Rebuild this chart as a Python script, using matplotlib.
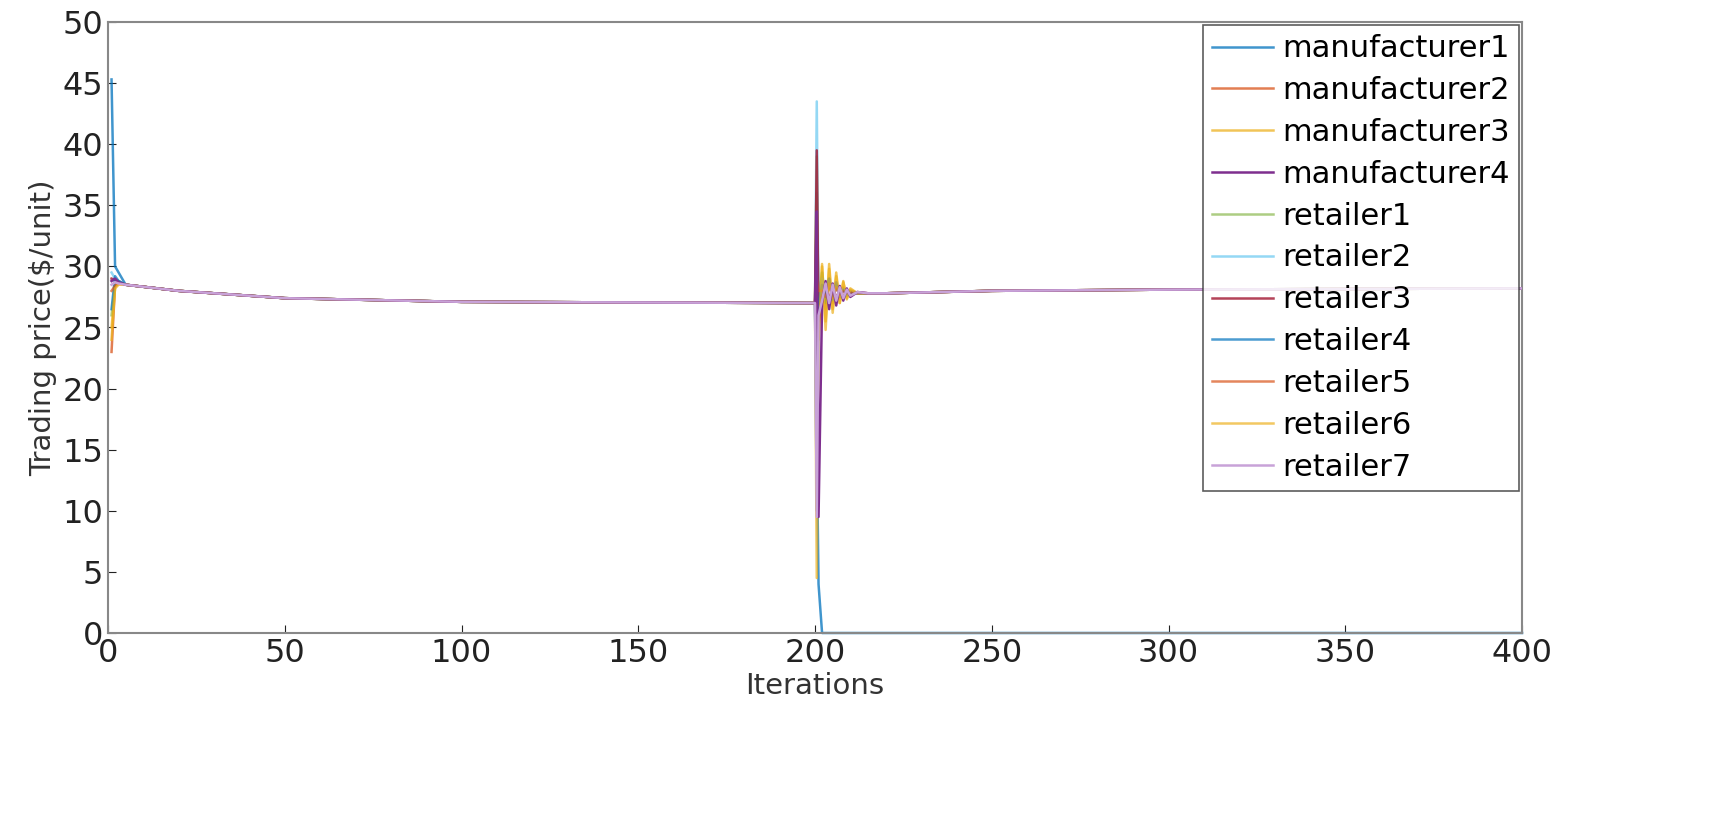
import matplotlib
matplotlib.use("Agg")
import matplotlib.pyplot as plt

labels = ["manufacturer1","manufacturer2","manufacturer3","manufacturer4",
          "retailer1","retailer2","retailer3","retailer4","retailer5","retailer6","retailer7"]
colors = ["#0072BD","#D95319","#EDB120","#7E2F8E","#77AC30","#4DBEEE","#A2142F",
          "#0072BD","#D95319","#EDB120","#C8A2D8"]
alphas = [0.75,0.75,0.75,1,0.6,0.6,0.8,0.7,0.7,0.7,1]

# common trajectory (shared segments)
x_early = [5, 20, 50, 100, 150, 200]
y_early = [28.5, 28.0, 27.4, 27.1, 27.05, 27.0]
x_osc = [202, 203, 204, 205, 206, 207, 208, 209, 210, 212, 215, 220]
x_late = [250, 300, 350, 400]
y_late = [28.0, 28.1, 28.15, 28.2]

starts = [[45.3, 30.0, 29.5], [23.0, 28.5, 28.8], [24.0, 28.3, 28.6], [28.8, 29.0, 28.7],
          [26.0, 28.6, 28.7], [29.5, 29.0, 28.8], [29.0, 28.9, 28.7], [26.5, 29.2, 28.8],
          [28.0, 28.4, 28.6], [25.0, 28.2, 28.5], [28.5, 28.7, 28.6]]
spike = [4.0, 30.0, 39.0, 34.5, 36.0, 43.5, 39.5, 10.0, 29.0, 4.5, 9.5]
dip = [0.0, 25.0, 24.0, 9.5, 27.0, 26.0, 25.5, 27.0, 28.0, 24.0, 26.0]
osc = [[0]*12,
       [28.5,26.5,29.0,27.0,28.6,27.4,28.3,27.6,28.0,27.8,27.8,27.8],
       [30.0,25.5,30.2,26.5,29.5,27.0,28.8,27.3,28.2,27.8,27.8,27.8],
       [27.0,28.8,26.5,28.6,26.8,28.4,27.2,28.2,27.5,27.9,27.8,27.8],
       [29.5,27.0,29.0,27.2,28.5,27.5,28.2,27.6,28.0,27.8,27.8,27.8],
       [29.0,27.5,28.8,27.3,28.4,27.6,28.1,27.7,27.9,27.8,27.8,27.8],
       [27.5,28.5,27.2,28.4,27.3,28.2,27.5,28.0,27.7,27.9,27.8,27.8],
       [28.5,27.8,29.0,27.3,28.7,27.5,28.1,27.7,27.9,27.8,27.8,27.8],
       [28.0,27.5,28.6,27.4,28.3,27.6,28.0,27.8,27.9,27.8,27.8,27.8],
       [30.2,24.8,29.8,26.2,29.2,27.0,28.7,27.4,28.1,27.8,27.8,27.8],
       [27.2,28.6,27.0,28.5,27.2,28.3,27.4,28.1,27.6,27.9,27.8,27.8]]

fig = plt.figure(figsize=(17.13, 8.13), dpi=100)
ax = fig.add_axes([108/1713, 1-633/813, (1522-108)/1713, (633-22)/813])
order = [0,1,2,4,5,6,7,8,9,3,10]
for i in order:
    if i == 0:
        xs = [1, 2, 3] + x_early + [201, 202, 400]
        ys = starts[i] + y_early + [spike[i], 0.0, 0.0]
    else:
        xs = [1, 2, 3] + x_early + [200.5, 201] + x_osc + x_late
        ys = starts[i] + y_early + [spike[i], dip[i]] + osc[i] + y_late
    ax.plot(xs, ys, color=colors[i], lw=1.8, alpha=alphas[i], label=labels[i],
            zorder=3 if i in (3, 10) else 2, clip_on=(i != 0))
handles, labs = ax.get_legend_handles_labels()
idx = [labs.index(l) for l in labels]
leg = ax.legend([handles[k] for k in idx], [labs[k] for k in idx], loc="upper right",
                fontsize=22, frameon=True, fancybox=False, edgecolor="#333333",
                handlelength=2.0, handletextpad=0.3, labelspacing=0.42, borderaxespad=0.1,
                borderpad=0.3)
leg.get_frame().set_linewidth(1.2)
ax.set_xlim(0, 400)
ax.set_ylim(0, 50)
ax.set_xticks(range(0, 401, 50))
ax.set_yticks(range(0, 51, 5))
ax.tick_params(labelsize=23, direction="in", length=6, colors="#222222")
for s in ax.spines.values():
    s.set_color("#888888"); s.set_linewidth(1.5)
ax.set_xlabel("Iterations", fontsize=21, color="#333333", labelpad=2)
ax.set_ylabel("Trading price($/unit)", fontsize=21, color="#333333", labelpad=4)
fig.savefig("out.png", dpi=100)
